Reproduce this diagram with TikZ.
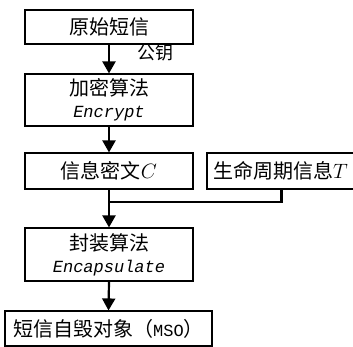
\documentclass[tikz,border=0pt]{standalone}
\usepackage{fontspec}
\newfontfamily\cjk{Noto Sans CJK SC}
\newfontfamily\monofont{Liberation Mono}
\usetikzlibrary{arrows.meta}
\tikzset{
  box/.style={draw, line width=1.1pt, inner sep=0pt, minimum width=168pt, align=center,
              font=\fontsize{20}{24}\selectfont\cjk},
  flow/.style={line width=2.2pt, -{Triangle[width=13pt,length=12pt]}},
  link/.style={line width=2.2pt}
}
\newcommand\entext[1]{{\fontsize{17}{20}\selectfont\monofont\itshape #1}}
\begin{document}
\begin{tikzpicture}[x=1pt,y=-1pt]
  \useasboundingbox (0,0) rectangle (353,347);
  \clip (0,0) rectangle (353,347);
  \fill[white] (0,0) rectangle (353,347);

  % processing chain
  \node[box, minimum height=34pt] (msg) at (109,27) {原始短信};
  \node[box, minimum height=52pt] (enc) at (109,100)
    {加密算法\\[-2pt]\entext{Encrypt}};
  \node[box, minimum height=36pt] (ct) at (109,171) {信息密文$C$};
  \node[box, minimum height=36pt, minimum width=158pt, text width=150pt, align=left,
        inner xsep=6pt] (life) at (288,171) {生命周期信息$T$};
  \node[box, minimum height=53pt] (cap) at (109,254.5)
    {封装算法\\[-2pt]\entext{Encapsulate}};
  \node[box, minimum height=35pt, minimum width=207pt] (mso) at (108.5,328.5)
    {短信自毁对象（{\fontsize{17}{20}\selectfont\monofont MSO}）};

  \node[font=\fontsize{18}{22}\selectfont\cjk] (key) at (155,53) {公钥};

  % connectors
  \draw[flow] (msg.south) -- (enc.north);
  \draw[flow] (enc.south) -- (ct.north);
  \coordinate (join) at (109,202);
  \draw[link] (ct.south) -- (join);
  \draw[link] ([xshift=75pt]life.south west) |- (join);
  \draw[flow] (join) -- (cap.north);
  \draw[flow] (cap.south) -- (mso.north);
\end{tikzpicture}
\end{document}
